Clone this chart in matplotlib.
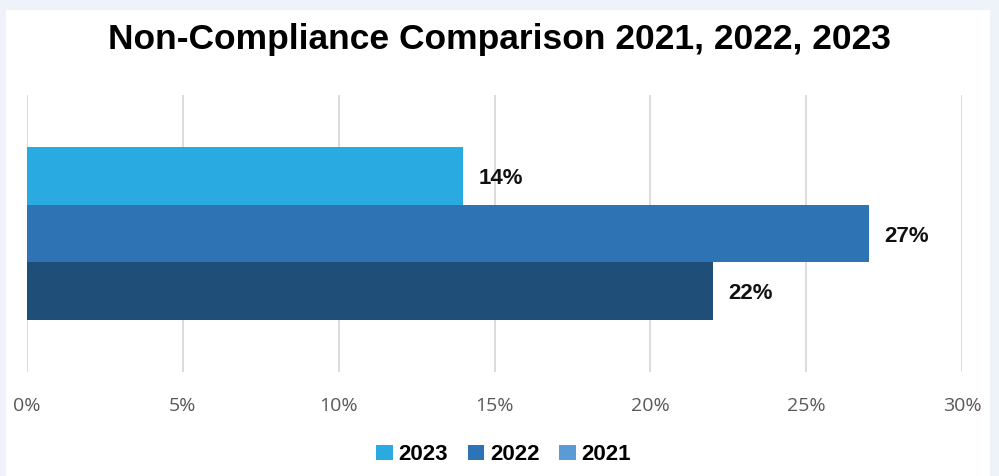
import matplotlib.pyplot as plt
from matplotlib.patches import Rectangle, Patch

years = ['2023', '2022', '2021']
values = [14, 27, 22]
bar_colors = ['#29abe2', '#2e74b5', '#1f4e79']
legend_colors = ['#29abe2', '#2e74b5', '#5b9bd5']
ticks = [0, 5, 10, 15, 20, 25, 30]


def draw_chart():
    fig = plt.figure(figsize=(9.99, 4.76), dpi=100)
    fig.patch.set_facecolor('#eef3f9')
    # white card on light background
    fig.patches.append(Rectangle((6 / 999, 0), 984 / 999, 1 - 10 / 476,
                                 transform=fig.transFigure, facecolor='white',
                                 edgecolor='none', zorder=-1))

    ax = fig.add_axes([27 / 999, 1 - 372 / 476, 935 / 999, 277 / 476])
    ax.set_facecolor('none')

    h = 0.335
    pos = [h, 0.0, -h]
    for y, v, c in zip(pos, values, bar_colors):
        ax.barh(y, v, height=h, color=c, zorder=2)
        ax.text(v + 0.5, y, f'{v}%', va='center_baseline', ha='left',
                fontsize=16, fontweight='bold', family='Liberation Sans',
                color='#111111')

    ax.set_xlim(0, 30)
    ax.set_ylim(-0.8, 0.8)
    ax.set_yticks([])
    ax.set_xticks(ticks)
    ax.set_xticklabels([f'{t}%' for t in ticks], fontsize=14,
                       family='Open Sans', color='#595959')
    ax.tick_params(axis='x', length=0, pad=18)
    ax.grid(axis='x', color='#d9d9d9', linewidth=1.3, zorder=0)
    for s in ax.spines.values():
        s.set_visible(False)

    fig.text(0.5, 1 - 40 / 476, 'Non-Compliance Comparison 2021, 2022, 2023',
             ha='center', va='center', fontsize=25.5, fontweight='bold',
             family='Liberation Sans', color='#000000')

    handles = [Patch(facecolor=c, edgecolor='none') for c in legend_colors]
    fig.legend(handles, years, loc='center', bbox_to_anchor=(0.504, 1 - 455 / 476),
               ncol=3, frameon=False, handlelength=0.75, handleheight=0.65,
               handletextpad=0.25, columnspacing=0.9,
               prop={'family': 'Liberation Sans', 'weight': 'bold', 'size': 16})

    fig.savefig('out.png', dpi=100, facecolor=fig.get_facecolor())


if __name__ == '__main__':
    draw_chart()
